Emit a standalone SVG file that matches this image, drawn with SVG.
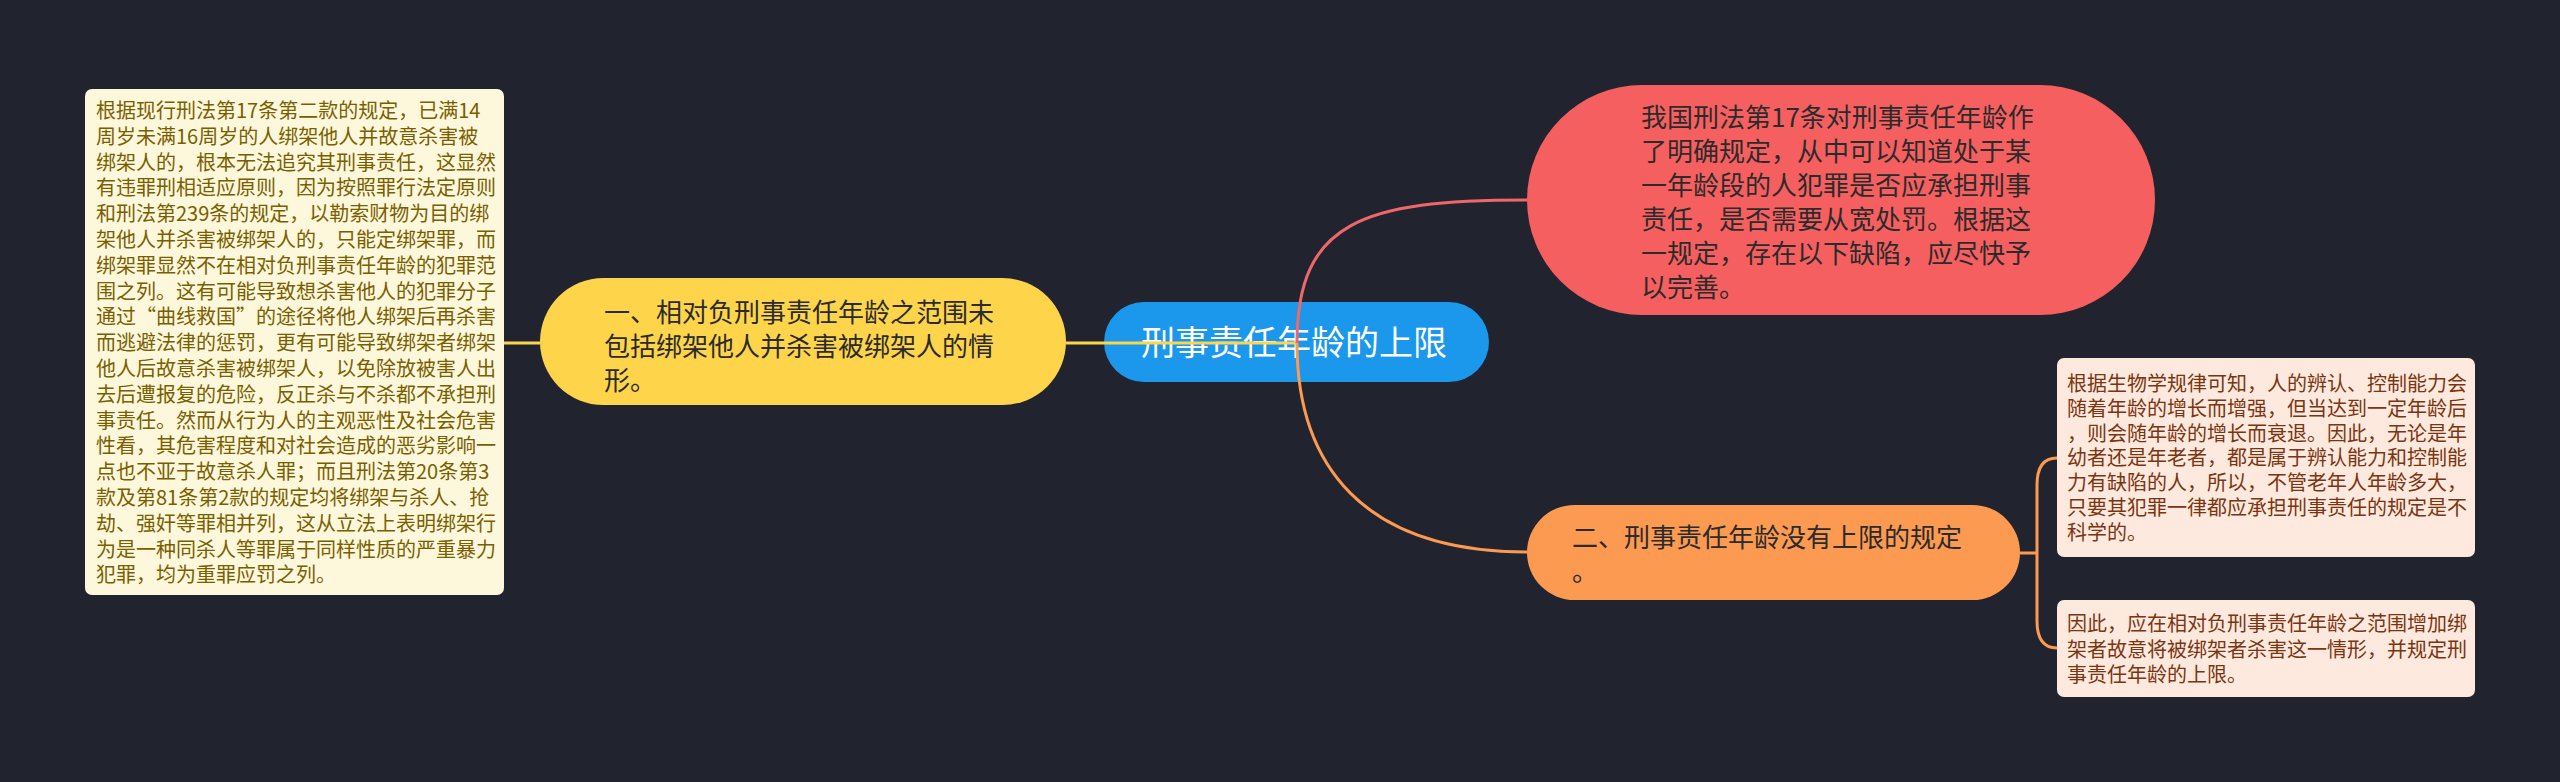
<svg xmlns="http://www.w3.org/2000/svg" width="2560" height="782" viewBox="0 0 2560 782">
<style>
text{font-family:"Noto Sans CJK SC","Noto Sans",sans-serif}
.lt{font-size:20px;fill:#7a5f00}
.rt{font-size:20px;fill:#7a3512}
.mt{font-size:26px;fill:#2b2b2b}
.ct{font-size:34px;fill:#ffffff}
.ln{fill:none;stroke-width:3}
</style>
<rect width="2560" height="782" fill="#21242f"/>
<g id="n-left-detail">
<rect x="85" y="89" width="419" height="506" rx="7" fill="#fdf7dc"/>
<text class="lt" x="96">
<tspan x="96" y="118">根据现行刑法第17条第二款的规定，已满14</tspan>
<tspan x="96" y="143.8">周岁未满16周岁的人绑架他人并故意杀害被</tspan>
<tspan x="96" y="169.6">绑架人的，根本无法追究其刑事责任，这显然</tspan>
<tspan x="96" y="195.4">有违罪刑相适应原则，因为按照罪行法定原则</tspan>
<tspan x="96" y="221.2">和刑法第239条的规定，以勒索财物为目的绑</tspan>
<tspan x="96" y="247">架他人并杀害被绑架人的，只能定绑架罪，而</tspan>
<tspan x="96" y="272.8">绑架罪显然不在相对负刑事责任年龄的犯罪范</tspan>
<tspan x="96" y="298.6">围之列。这有可能导致想杀害他人的犯罪分子</tspan>
<tspan x="96" y="324.4">通过“曲线救国”的途径将他人绑架后再杀害</tspan>
<tspan x="96" y="350.2">而逃避法律的惩罚，更有可能导致绑架者绑架</tspan>
<tspan x="96" y="376">他人后故意杀害被绑架人，以免除放被害人出</tspan>
<tspan x="96" y="401.8">去后遭报复的危险，反正杀与不杀都不承担刑</tspan>
<tspan x="96" y="427.6">事责任。然而从行为人的主观恶性及社会危害</tspan>
<tspan x="96" y="453.4">性看，其危害程度和对社会造成的恶劣影响一</tspan>
<tspan x="96" y="479.2">点也不亚于故意杀人罪；而且刑法第20条第3</tspan>
<tspan x="96" y="505">款及第81条第2款的规定均将绑架与杀人、抢</tspan>
<tspan x="96" y="530.8">劫、强奸等罪相并列，这从立法上表明绑架行</tspan>
<tspan x="96" y="556.6">为是一种同杀人等罪属于同样性质的严重暴力</tspan>
<tspan x="96" y="582.4">犯罪，均为重罪应罚之列。</tspan>
</text>
</g>
<g id="n-branch1">
<rect x="540" y="278" width="526" height="127" rx="63.5" fill="#fed54a"/>
<text class="mt">
<tspan x="604" y="322">一、相对负刑事责任年龄之范围未</tspan>
<tspan x="604" y="356">包括绑架他人并杀害被绑架人的情</tspan>
<tspan x="604" y="390">形。</tspan>
</text>
</g>
<g id="n-intro">
<rect x="1527" y="85" width="628" height="230" rx="115" fill="#f65f5f"/>
<text class="mt">
<tspan x="1641" y="127">我国刑法第17条对刑事责任年龄作</tspan>
<tspan x="1641" y="161">了明确规定，从中可以知道处于某</tspan>
<tspan x="1641" y="195">一年龄段的人犯罪是否应承担刑事</tspan>
<tspan x="1641" y="229">责任，是否需要从宽处罚。根据这</tspan>
<tspan x="1641" y="263">一规定，存在以下缺陷，应尽快予</tspan>
<tspan x="1641" y="297">以完善。</tspan>
</text>
</g>
<g id="n-branch2">
<rect x="1527" y="505" width="493" height="95" rx="47.5" fill="#fd9a52"/>
<text class="mt">
<tspan x="1572" y="547">二、刑事责任年龄没有上限的规定</tspan>
<tspan x="1572" y="581">。</tspan>
</text>
</g>
<g id="n-right-detail1">
<rect x="2057" y="358" width="418" height="199" rx="7" fill="#fde9dd"/>
<text class="rt">
<tspan x="2067" y="391">根据生物学规律可知，人的辨认、控制能力会</tspan>
<tspan x="2067" y="415.8">随着年龄的增长而增强，但当达到一定年龄后</tspan>
<tspan x="2067" y="440.6">，则会随年龄的增长而衰退。因此，无论是年</tspan>
<tspan x="2067" y="465.4">幼者还是年老者，都是属于辨认能力和控制能</tspan>
<tspan x="2067" y="490.2">力有缺陷的人，所以，不管老年人年龄多大，</tspan>
<tspan x="2067" y="515">只要其犯罪一律都应承担刑事责任的规定是不</tspan>
<tspan x="2067" y="539.8">科学的。</tspan>
</text>
</g>
<g id="n-right-detail2">
<rect x="2057" y="600" width="418" height="97" rx="7" fill="#fde9dd"/>
<text class="rt">
<tspan x="2067" y="631">因此，应在相对负刑事责任年龄之范围增加绑</tspan>
<tspan x="2067" y="656.5">架者故意将被绑架者杀害这一情形，并规定刑</tspan>
<tspan x="2067" y="682">事责任年龄的上限。</tspan>
</text>
</g>
<g id="n-central">
<rect x="1104" y="302" width="385" height="80" rx="40" fill="#1b97ec"/>
<text class="ct" x="1141" y="355">刑事责任年龄的上限</text>
</g>
<g id="connectors">
<path class="ln" stroke="#fed54a" d="M1297 343 H1066"/>
<path class="ln" stroke="#fed54a" d="M540 343 H504"/>
<path class="ln" stroke="#f0676a" d="M1297 343 C1297 222 1362 200 1527 200"/>
<path class="ln" stroke="#fd9a52" d="M1297 343 C1297 464 1362 552 1527 552"/>
<path class="ln" stroke="#fd9a52" d="M2020 553 H2037"/>
<path class="ln" stroke="#fd9a52" d="M2037 553 V485 Q2037 458 2057 458"/>
<path class="ln" stroke="#fd9a52" d="M2037 553 V621 Q2037 648 2057 648"/>
</g>
</svg>
